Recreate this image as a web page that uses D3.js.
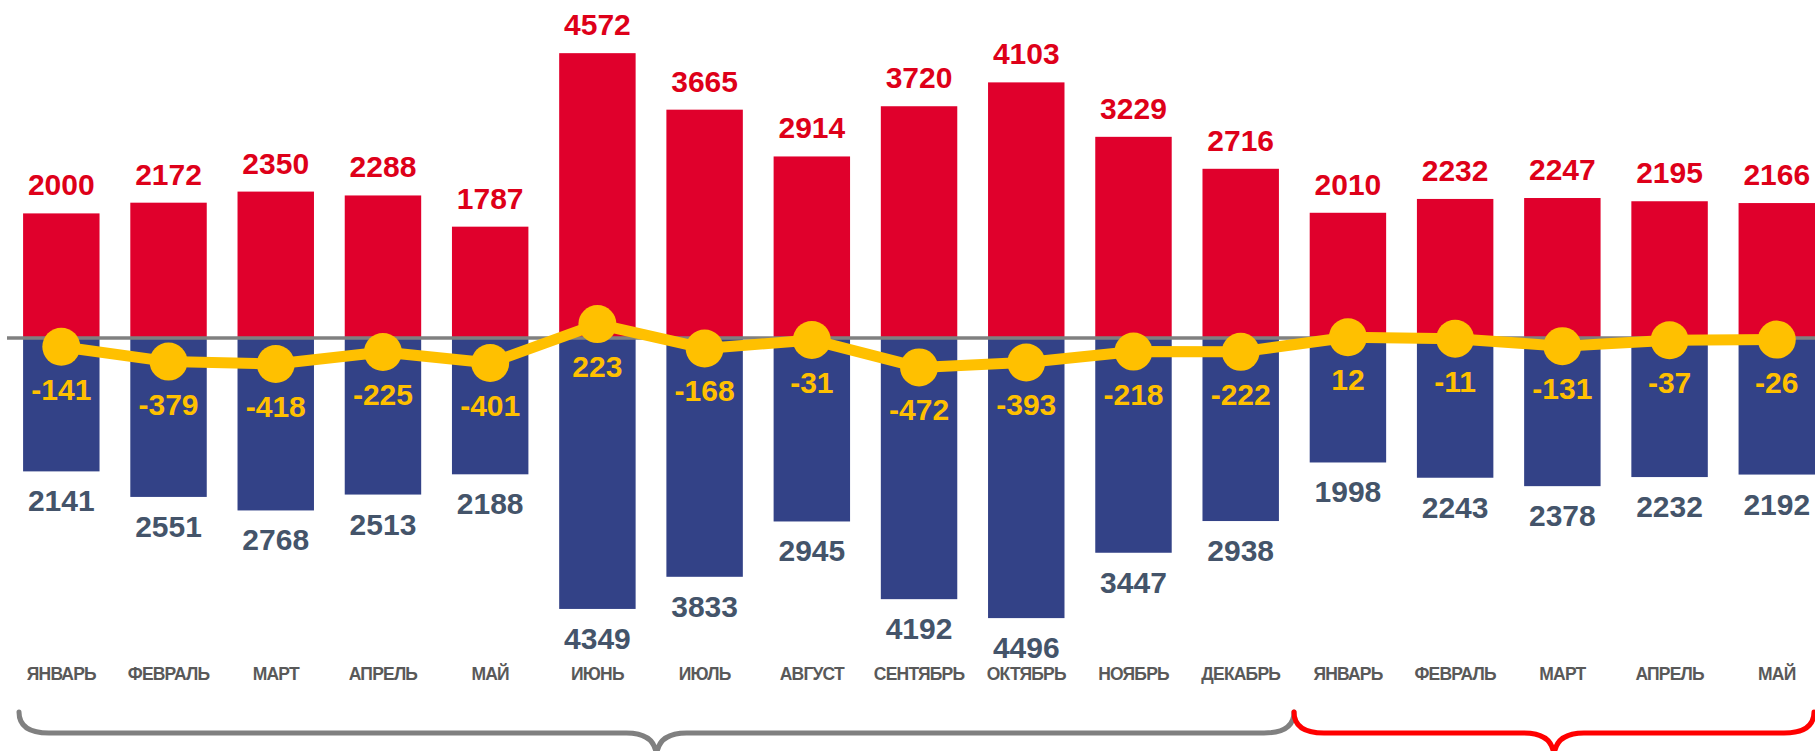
<!DOCTYPE html>
<html>
<head>
<meta charset="utf-8">
<script src="https://cdn.jsdelivr.net/npm/d3@7"></script>
<style>
  html, body { margin: 0; padding: 0; background: #ffffff; overflow: hidden; }
  svg { display: block; }
</style>
</head>
<body>
<svg id="chart" width="1815" height="751"></svg>
<script>
const months = ["ЯНВАРЬ", "ФЕВРАЛЬ", "МАРТ", "АПРЕЛЬ", "МАЙ", "ИЮНЬ", "ИЮЛЬ", "АВГУСТ", "СЕНТЯБРЬ", "ОКТЯБРЬ", "НОЯБРЬ", "ДЕКАБРЬ", "ЯНВАРЬ", "ФЕВРАЛЬ", "МАРТ", "АПРЕЛЬ", "МАЙ"];
const inflow = [2000, 2172, 2350, 2288, 1787, 4572, 3665, 2914, 3720, 4103, 3229, 2716, 2010, 2232, 2247, 2195, 2166];
const outflow = [2141, 2551, 2768, 2513, 2188, 4349, 3833, 2945, 4192, 4496, 3447, 2938, 1998, 2243, 2378, 2232, 2192];
const balance = [-141, -379, -418, -225, -401, 223, -168, -31, -472, -393, -218, -222, 12, -11, -131, -37, -26];
// groups for the braces: [first index, last index]
const groups = [[0, 11], [12, 16]];

const svg = d3.select("#chart");
const idx = months.map((d, i) => i);

const x = d3.scaleBand()
  .domain(idx)
  .range([7.7, 1830.4])
  .paddingInner(0.287)
  .paddingOuter(0.1435);

const y = d3.scaleLinear()
  .domain([-5000, 5000])
  .range([649.5, 26.5]);

const cx = i => x(i) + x.bandwidth() / 2;
const FONT = "'Liberation Sans', Arial, sans-serif";

// red bars (positive)
svg.append("g").selectAll("rect").data(inflow).join("rect")
  .attr("x", (d, i) => x(i))
  .attr("y", d => y(d))
  .attr("width", x.bandwidth())
  .attr("height", d => y(0) - y(d))
  .attr("fill", "#E0002C");

// blue bars (negative)
svg.append("g").selectAll("rect").data(outflow).join("rect")
  .attr("x", (d, i) => x(i))
  .attr("y", y(0))
  .attr("width", x.bandwidth())
  .attr("height", d => y(-d) - y(0))
  .attr("fill", "#334287");

// zero line
svg.append("line")
  .attr("x1", 7).attr("x2", 1815)
  .attr("y1", y(0)).attr("y2", y(0))
  .attr("stroke", "#808080").attr("stroke-width", 3.5);

// balance line
const line = d3.line().x((d, i) => cx(i)).y(d => y(d));
svg.append("path")
  .datum(balance)
  .attr("d", line)
  .attr("fill", "none")
  .attr("stroke", "#FFC000")
  .attr("stroke-width", 11)
  .attr("stroke-linejoin", "round");

svg.append("g").selectAll("circle").data(balance).join("circle")
  .attr("cx", (d, i) => cx(i))
  .attr("cy", d => y(d))
  .attr("r", 19)
  .attr("fill", "#FFC000");

// red labels
svg.append("g").selectAll("text").data(inflow).join("text")
  .attr("x", (d, i) => cx(i))
  .attr("y", d => y(d) - 18)
  .attr("text-anchor", "middle")
  .attr("font-family", FONT)
  .attr("font-weight", "bold")
  .attr("font-size", 30)
  .attr("fill", "#DE0019")
  .text(d => d);

// blue labels
svg.append("g").selectAll("text").data(outflow).join("text")
  .attr("x", (d, i) => cx(i))
  .attr("y", d => y(-d) + 40)
  .attr("text-anchor", "middle")
  .attr("font-family", FONT)
  .attr("font-weight", "bold")
  .attr("font-size", 30)
  .attr("fill", "#44546A")
  .text(d => d);

// balance labels
svg.append("g").selectAll("text").data(balance).join("text")
  .attr("x", (d, i) => cx(i))
  .attr("y", d => y(d) + 53)
  .attr("text-anchor", "middle")
  .attr("font-family", FONT)
  .attr("font-weight", "bold")
  .attr("font-size", 30)
  .attr("fill", "#FFC000")
  .text(d => d);

// month labels
svg.append("g").selectAll("text").data(months).join("text")
  .attr("x", (d, i) => cx(i))
  .attr("y", 680)
  .attr("text-anchor", "middle")
  .attr("font-family", FONT)
  .attr("font-weight", "bold")
  .attr("font-size", 17.5)
  .attr("letter-spacing", "-0.8px")
  .attr("fill", "#595959")
  .text(d => d);

// braces
function bracePath(x0, x1) {
  const y0 = 712, y1 = 733, y2 = 758, r = 30;
  const xc = (x0 + x1) / 2;
  return `M${x0},${y0} Q${x0},${y1} ${x0 + r},${y1} L${xc - r},${y1} Q${xc},${y1} ${xc},${y2} ` +
         `M${xc},${y2} Q${xc},${y1} ${xc + r},${y1} L${x1 - r},${y1} Q${x1},${y1} ${x1},${y0}`;
}
const braceColors = ["#808080", "#FF0000"];
const braceEdges = [[19, 1294], [1294, 1814]];
svg.append("g").selectAll("path").data(groups).join("path")
  .attr("d", (g, k) => bracePath(braceEdges[k][0], braceEdges[k][1]))
  .attr("fill", "none")
  .attr("stroke", (g, k) => braceColors[k])
  .attr("stroke-width", 5)
  .attr("stroke-linecap", "round");
</script>
</body>
</html>
